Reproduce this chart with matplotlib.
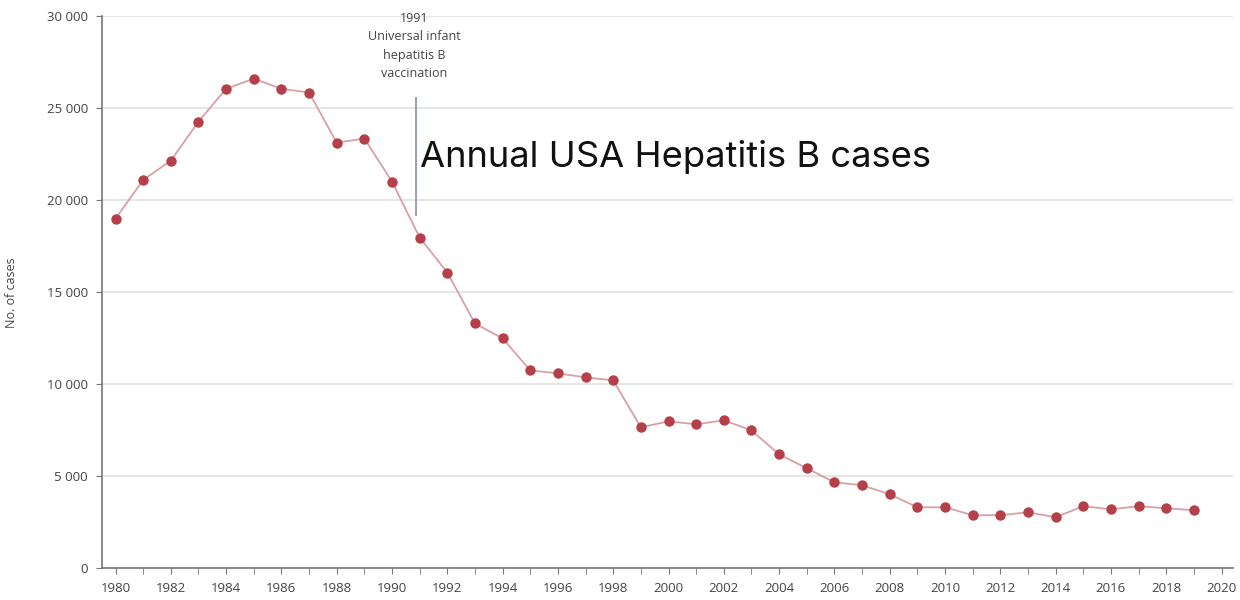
import matplotlib
matplotlib.use("Agg")
import matplotlib.pyplot as plt
from matplotlib.ticker import FuncFormatter, MultipleLocator

plt.rcParams['font.family'] = ['Open Sans', 'DejaVu Sans']

# Annual reported hepatitis B cases, USA
years = list(range(1980, 2020))
cases = [19000, 21100, 22150, 24270, 26060, 26600, 26060, 25850, 23130, 23350,
         21010, 17970, 16070, 13300, 12490, 10750, 10590, 10370, 10210, 7660,
         7980, 7820, 8040, 7490, 6190, 5430, 4670, 4510, 4020, 3310,
         3310, 2880, 2880, 3040, 2770, 3370, 3200, 3370, 3260, 3150]

vacc_year = 1991
vacc_span = [19150, 25600]
vacc_text = "1991\nUniversal infant\nhepatitis B\nvaccination"
title_text = "Annual USA Hepatitis B cases"

fig = plt.figure(figsize=(12.4, 6), dpi=100)
ax = fig.add_axes([0.082, 0.053, 0.912, 0.92])

ax.plot(years, cases, color='#d9a0a4', linewidth=1.3, zorder=2)
ax.plot(years, cases, linestyle='none', marker='o', markersize=7.5,
        color='#b5404a', markeredgewidth=0, zorder=3)

ax.set_xlim(1979.5, 2020.4)
ax.set_ylim(0, 30000)
ax.xaxis.set_major_locator(MultipleLocator(2))
ax.xaxis.set_minor_locator(MultipleLocator(1))
ax.yaxis.set_major_locator(MultipleLocator(5000))
ax.yaxis.set_major_formatter(FuncFormatter(lambda v, p: f"{int(v):,}".replace(",", " ")))

ax.grid(axis='y', color='#e2e2e2', linewidth=1.2)
ax.set_axisbelow(True)
for s in ['top', 'right']:
    ax.spines[s].set_visible(False)
for s in ['left', 'bottom']:
    ax.spines[s].set_color('#777777')
    ax.spines[s].set_linewidth(1.2)
ax.tick_params(axis='both', which='both', colors='#777777', labelcolor='#444444',
               labelsize=9.5, length=4, direction='out')
ax.tick_params(axis='x', pad=6)
ax.tick_params(axis='y', pad=6)

ax.set_ylabel("No. of cases", fontsize=9, color='#444444')
ax.yaxis.set_label_coords(-0.074, 0.5)

# vaccination marker
ax.vlines(vacc_year - 0.15, vacc_span[0], vacc_span[1], color='#8e9aaa', linewidth=1.3)
ax.text(vacc_year - 0.2, 30250, vacc_text, ha='center', va='top', fontsize=9,
        color='#444444', linespacing=1.55)

ax.text(vacc_year, 22350, title_text, ha='left', va='center', fontsize=26.2,
        color='#111111', family=['Inter', 'DejaVu Sans'])

fig.savefig("out.png", dpi=100)
